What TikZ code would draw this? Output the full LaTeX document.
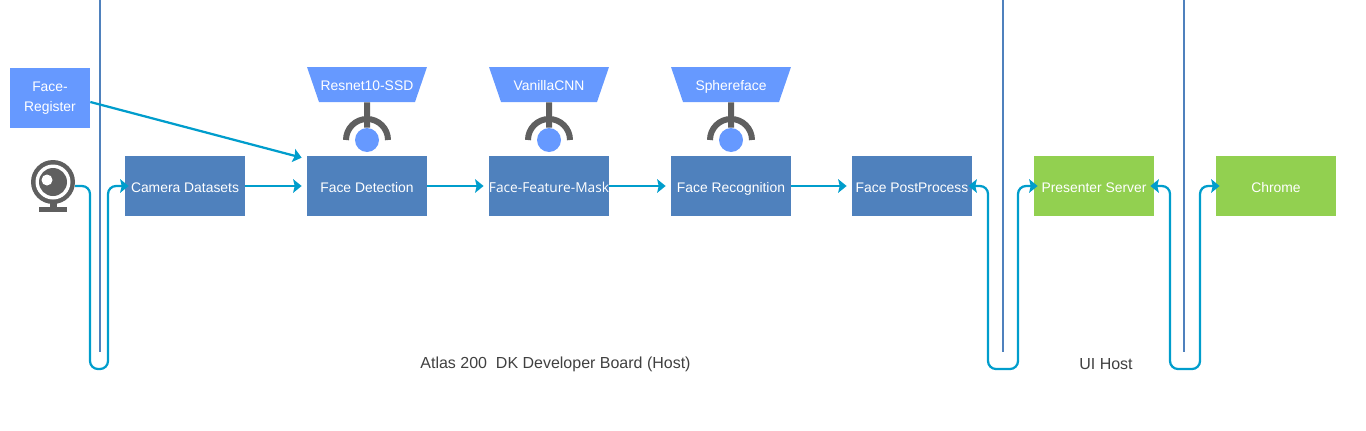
\documentclass[tikz,border=0pt]{standalone}
\usepackage{fontspec}
\setmainfont{Liberation Sans}
\newfontfamily\maskfont{Open Sans}
\usetikzlibrary{arrows.meta,shapes.geometric}
\definecolor{boxblue}{HTML}{4F81BD}
\definecolor{lightblue}{HTML}{6699FF}
\definecolor{boxgreen}{HTML}{92D050}
\definecolor{flowblue}{HTML}{009DCC}
\definecolor{knobgray}{HTML}{5F5F5F}
\definecolor{labelgray}{HTML}{404040}
\tikzset{
	>={Stealth[length=0.17cm,width=0.27cm,inset=0.03cm]},
	stage/.style={fill=boxblue,text=white,minimum width=2.4cm,minimum height=1.2cm,inner sep=0pt,text height=0.27cm,text depth=0pt,font=\fontsize{7.9pt}{9pt}\selectfont},
	hoststage/.style={stage,fill=boxgreen},
	model/.style={trapezium,shape border rotate=180,trapezium stretches body=true,trapezium left angle=45,trapezium right angle=45,fill=lightblue,text=white,minimum width=2.4cm,minimum height=0.7cm,inner sep=0pt,text height=0.24cm,text depth=0pt,font=\fontsize{7.9pt}{9pt}\selectfont},
	ball/.style={circle,fill=lightblue,minimum size=0.48cm,inner sep=0pt},
	flow/.style={draw=flowblue,line width=0.045cm,->},
	twoway/.style={draw=flowblue,line width=0.045cm,<->,rounded corners=0.16cm,shorten >=-0.08cm,shorten <=-0.08cm},
	stem/.style={draw=knobgray,line width=0.12cm},
	lane/.style={draw=boxblue,line width=0.04cm},
	hostlabel/.style={text=labelgray,font=\fontsize{9.1pt}{11pt}\selectfont}
}
\begin{document}
\begin{tikzpicture}[x=0.02cm,y=-0.02cm]
	\useasboundingbox (0,0) rectangle (1366,430);

	% lanes
	\foreach \x in {100,1003,1184}
		\draw[lane] (\x,0) -- (\x,352);

	% stages
	\node[stage,fill=lightblue,minimum width=1.6cm,align=center,text height=,text depth=,font=\fontsize{7.9pt}{11.5pt}\selectfont] (register) at (50,98) {Face-\\Register};
	\node[stage] (datasets) at (185,186) {Camera Datasets};
	\node[stage] (detect) at (367,186) {Face Detection};
	\node[stage,font=\maskfont\fontsize{7.8pt}{9pt}\selectfont] (mask) at (549,186) {Face-Feature-Mask};
	\node[stage] (recog) at (731,186) {Face Recognition};
	\node[stage] (post) at (912,186) {Face PostProcess};
	\node[hoststage] (presenter) at (1094,186) {Presenter Server};
	\node[hoststage] (chrome) at (1276,186) {Chrome};

	% models
	\node[model] (ssd) at (367,84.5) {Resnet10-SSD};
	\node[model] (vanilla) at (549,84.5) {VanillaCNN};
	\node[model] (sphere) at (731,84.5) {Sphereface};
	\node[ball] (ballssd) at (367,140) {};
	\node[ball] (ballvanilla) at (549,140) {};
	\node[ball] (ballsphere) at (731,140) {};
	\foreach \m in {ssd,vanilla,sphere} {
		\draw[stem] (\m.south) -- (ball\m.north);
		\draw[stem] ([shift={(-21,0)}]ball\m.center) arc (180:360:21);
	}

	% camera
	\fill[knobgray] (53,182) circle (22);
	\fill[white] (53,182) circle (17.5);
	\fill[knobgray] (53,182) circle (14);
	\fill[white] (47,180) circle (5.5);
	\fill[knobgray] (50,203) rectangle (57,208);
	\fill[knobgray] (39,207) rectangle (67,212);

	% connectors
	\coordinate (camout) at (75,186);
	\coordinate (loopa) at (90,369);
	\coordinate (loopb) at (108,369);
	\coordinate (loopc) at (988,369);
	\coordinate (loopd) at (1018,369);
	\coordinate (loope) at (1170,369);
	\coordinate (loopf) at (1200,369);

	\draw[flow,rounded corners=0.16cm,shorten >=-0.08cm] (camout) -| (loopa) -- (loopb) |- (datasets.west);
	\draw[flow,shorten >=0.1cm] (datasets) -- (detect);
	\draw[flow,shorten >=0.1cm] (detect) -- (mask);
	\draw[flow,shorten >=0.1cm] (mask) -- (recog);
	\draw[flow,shorten >=0.1cm] (recog) -- (post);
	\draw[flow] ([shift={(0,4)}]register.east) -- ([shift={(-5,2)}]detect.north west);
	\draw[twoway] (presenter.west) -| (loopd) -- (loopc) |- (post.east);
	\draw[twoway] (chrome.west) -| (loopf) -- (loope) |- (presenter.east);

	% hosts
	\node[hostlabel] (board) at (555.5,364) {Atlas 200\ \ DK Developer Board (Host)};
	\node[hostlabel] (uihost) at (1106,364) {UI Host};
\end{tikzpicture}
\end{document}
